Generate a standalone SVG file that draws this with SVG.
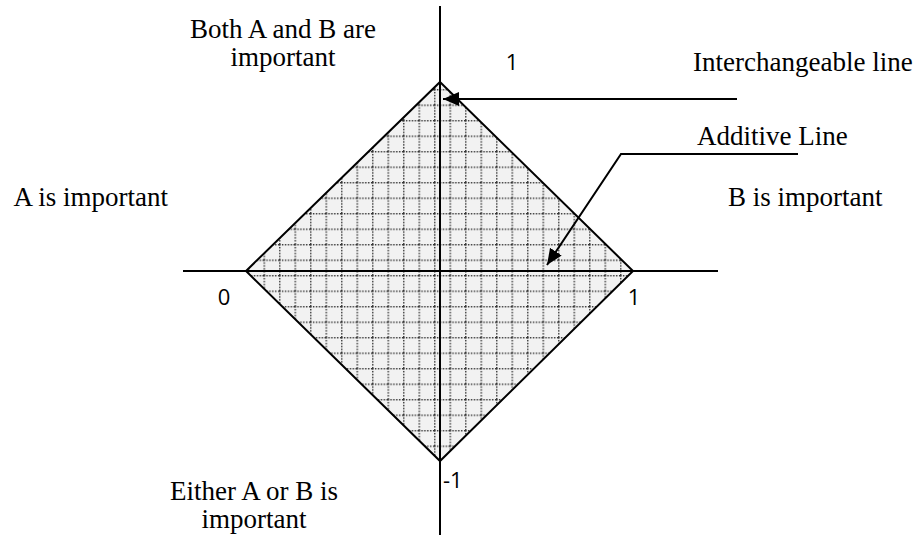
<svg xmlns="http://www.w3.org/2000/svg" width="920" height="535" viewBox="0 0 920 535">
<defs>
<style>
.serif{font-family:"Liberation Serif","Times New Roman",serif;font-size:27px;fill:#000}
.sans{font-family:"Open Sans","Noto Sans",sans-serif;font-size:22px;fill:#000}
.ln{stroke:#000;stroke-width:2;fill:none}
</style>
<pattern id="grid" patternUnits="userSpaceOnUse" x="0" y="11.5" width="15.5" height="15.5">
<rect width="15.5" height="15.5" fill="#f2f2f2"/>
<line x1="0.75" y1="0" x2="0.75" y2="15.5" stroke="#333" stroke-width="1.4" stroke-dasharray="1.4 1.5"/>
<line x1="0" y1="0.75" x2="15.5" y2="0.75" stroke="#333" stroke-width="1.4" stroke-dasharray="1.4 1.5"/>
</pattern>
<marker id="ah" markerUnits="userSpaceOnUse" markerWidth="20" markerHeight="16" refX="16" refY="7" orient="auto">
<path d="M0,0 L16,7 L0,14 Z" fill="#000"/>
</marker>
</defs>
<g id="diamond">
<polygon points="440,82 633,271 440,461 246,271" fill="url(#grid)" stroke="#000" stroke-width="2"/>
</g>
<g id="axes">
<line class="ln" x1="440" y1="6" x2="440" y2="535"/>
<line class="ln" x1="183" y1="271" x2="718" y2="271"/>
</g>
<g id="connectors">
<line class="ln" x1="737" y1="99" x2="443" y2="99" marker-end="url(#ah)"/>
<polyline class="ln" points="798,154 621,154 547,265" marker-end="url(#ah)"/>
</g>
<g id="labels">
<text class="serif" x="283" y="38" text-anchor="middle">Both A and B are</text>
<text class="serif" x="283" y="66" text-anchor="middle">important</text>
<text class="sans" x="512" y="70" text-anchor="middle">1</text>
<text class="serif" x="693" y="71">Interchangeable line</text>
<text class="serif" x="697" y="145">Additive Line</text>
<text class="serif" x="168" y="206" text-anchor="end">A is important</text>
<text class="serif" x="728" y="206">B is important</text>
<text class="sans" x="224" y="305" text-anchor="middle">0</text>
<text class="sans" x="634" y="305" text-anchor="middle">1</text>
<text class="sans" x="443" y="488">-1</text>
<text class="serif" x="254" y="500" text-anchor="middle">Either A or B is</text>
<text class="serif" x="254" y="528" text-anchor="middle">important</text>
</g>
</svg>
